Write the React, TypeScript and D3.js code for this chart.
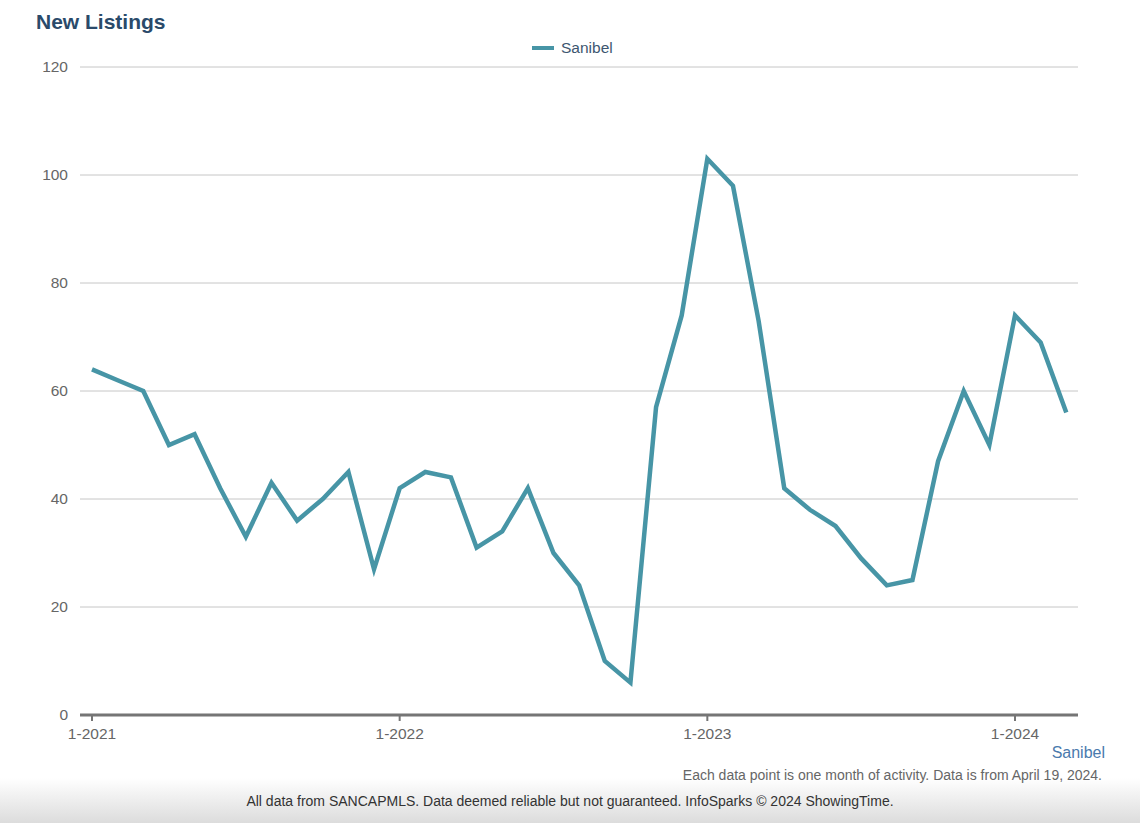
import React from "react";
import * as d3 from "d3";

const months = [
  "1-2021","2-2021","3-2021","4-2021","5-2021","6-2021","7-2021","8-2021","9-2021","10-2021","11-2021","12-2021",
  "1-2022","2-2022","3-2022","4-2022","5-2022","6-2022","7-2022","8-2022","9-2022","10-2022","11-2022","12-2022",
  "1-2023","2-2023","3-2023","4-2023","5-2023","6-2023","7-2023","8-2023","9-2023","10-2023","11-2023","12-2023",
  "1-2024","2-2024","3-2024",
];
const sanibel = [
  64, 62, 60, 50, 52, 42, 33, 43, 36, 40, 45, 27,
  42, 45, 44, 31, 34, 42, 30, 24, 10, 6, 57, 74,
  103, 98, 73, 42, 38, 35, 29, 24, 25, 47, 60, 50,
  74, 69, 56,
];
const yTicks = [0, 20, 40, 60, 80, 100, 120];
const xTickLabels = ["1-2021", "1-2022", "1-2023", "1-2024"];

const W = 1140, H = 823;
const FONT = "'Liberation Sans', Arial, Helvetica, sans-serif";

export default function App() {
  const x = d3.scaleLinear().domain([0, 36]).range([92, 1015]);
  const y = d3.scaleLinear().domain([0, 120]).range([715, 67]);
  const line = d3.line<number>().x((_, i) => x(i)).y((d) => y(d));
  const gridX0 = 80, gridX1 = 1078;

  return (
    <svg width={W} height={H} style={{ position: "absolute", left: 0, top: 0, fontFamily: FONT }}>
      <defs>
        <linearGradient id="foot" x1="0" y1="0" x2="0" y2="1">
          <stop offset="0" stopColor="#ffffff" />
          <stop offset="1" stopColor="#dcdcdc" />
        </linearGradient>
      </defs>
      <rect x={0} y={0} width={W} height={H} fill="#fff" />
      <rect x={0} y={778} width={W} height={45} fill="url(#foot)" />
      <text x={36} y={29} fontSize={21} fontWeight="bold" fill="#2a4a6a">New Listings</text>

      <line x1={532} x2={554} y1={48} y2={48} stroke="#4795a6" strokeWidth={4} />
      <text x={561} y={53} fontSize={15.5} fill="#3d5670">Sanibel</text>

      {yTicks.map((t) => (
        <g key={t}>
          {t > 0 && <line x1={gridX0} x2={gridX1} y1={y(t)} y2={y(t)} stroke="#c6c6c6" strokeWidth={1} />}
          <text x={68} y={y(t) + 5} fontSize={15.5} fill="#666" textAnchor="end">{t}</text>
        </g>
      ))}

      <line x1={gridX0} x2={gridX1} y1={y(0)} y2={y(0)} stroke="#757575" strokeWidth={3} />
      {xTickLabels.map((lab) => {
        const i = months.indexOf(lab);
        return (
          <g key={lab}>
            <line x1={x(i)} x2={x(i)} y1={y(0)} y2={y(0) + 6} stroke="#757575" strokeWidth={2} />
            <text x={x(i)} y={y(0) + 24} fontSize={15.5} fill="#666" textAnchor="middle">{lab}</text>
          </g>
        );
      })}

      <path d={line(sanibel) || ""} fill="none" stroke="#4795a6" strokeWidth={4.5} strokeLinejoin="miter" />

      <text x={1105} y={758} fontSize={16} fill="#4a7aad" textAnchor="end">Sanibel</text>
      <text x={1102} y={780} fontSize={14} fill="#666" textAnchor="end">Each data point is one month of activity. Data is from April 19, 2024.</text>
      <text x={570} y={806} fontSize={14} fill="#333" textAnchor="middle">All data from SANCAPMLS. Data deemed reliable but not guaranteed. InfoSparks © 2024 ShowingTime.</text>
    </svg>
  );
}
